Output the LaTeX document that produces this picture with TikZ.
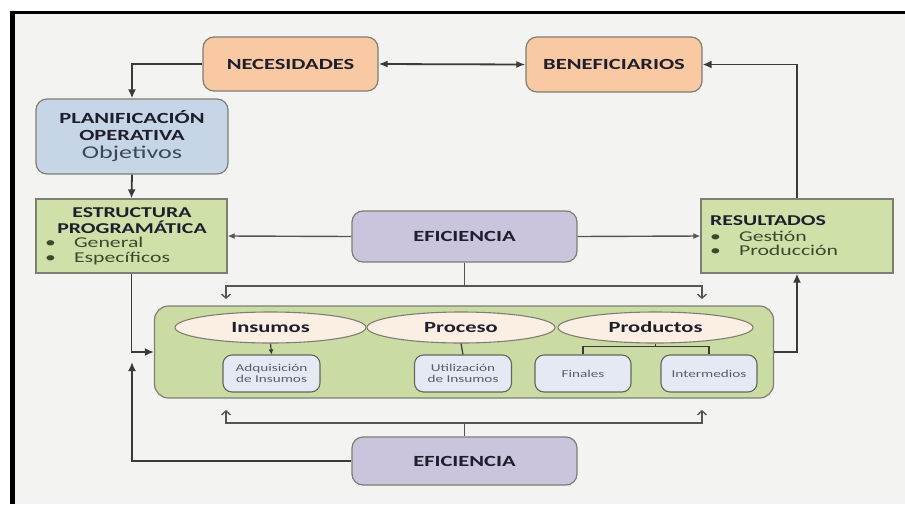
\documentclass[tikz,border=0pt]{standalone}
\usepackage{fontspec}
\setmainfont{Carlito}[FakeStretch=1.45]
\usetikzlibrary{arrows.meta,shapes.geometric}
\definecolor{bgc}{HTML}{F3F3F2}
\definecolor{orangef}{HTML}{F9C9A3}
\definecolor{bluef}{HTML}{C7D6E7}
\definecolor{greenf}{HTML}{D0E0A9}
\definecolor{bigf}{HTML}{CBDBA4}
\definecolor{purplef}{HTML}{CBC4DD}
\definecolor{ellf}{HTML}{FBEEE2}
\definecolor{smallf}{HTML}{E5E9F4}
\definecolor{bord}{HTML}{7E7E72}
\definecolor{lc}{HTML}{3A3A3A}
\definecolor{lc2}{HTML}{555555}
\definecolor{hd}{HTML}{1E1E2C}
\definecolor{objc}{HTML}{3C4856}
\definecolor{bulc}{HTML}{3C4A2C}
\definecolor{smc}{HTML}{55606A}
\newcommand{\hdfont}{\bfseries\fontsize{15.5}{17}\selectfont}
\begin{document}
\begin{tikzpicture}[x=1pt,y=-1pt,
  box/.style={draw=bord, line width=1.2pt, inner sep=0pt, rounded corners=11pt, text=hd, font=\hdfont, align=center},
  sqbox/.style={draw=bord, line width=1.2pt, inner sep=0pt},
  ell/.style={ellipse, draw=bord, line width=1.1pt, fill=ellf, inner sep=0pt, text=hd, font=\bfseries\fontsize{15.5}{17}\selectfont},
  small/.style={draw=bord!80!black, line width=1.1pt, fill=smallf, rounded corners=9pt, inner sep=0pt, text=smc, align=center, font=\fontsize{10.5}{11}\selectfont, minimum width=97pt, minimum height=37pt},
  arr/.style={draw=lc, line width=1.8pt, -{Latex[length=9pt,width=8pt]}},
  arrs/.style={draw=lc2, line width=1.4pt, -{Latex[length=7pt,width=6pt]}},
  ln/.style={draw=lc2, line width=1.4pt},
  barb/.style={draw=lc2, line width=1.4pt, {Straight Barb[length=4pt,width=9pt]}-{Straight Barb[length=4pt,width=9pt]}},
  hdtxt/.style={text=hd, font=\bfseries\fontsize{15}{15.5}\selectfont, inner sep=0pt},
  bultxt/.style={text=bulc, align=left, inner sep=0pt}
]
\useasboundingbox (0,0) rectangle (905,504);
\fill[white] (0,0) rectangle (905,504);
\fill[bgc] (12,12) rectangle (905,504);
\draw[line width=3pt] (10,12) -- (905,12);
\draw[line width=5pt] (12.5,10.5) -- (12.5,504);

% top row
\node[box, fill=orangef, minimum width=175pt, minimum height=54pt] (nec) at (290.5,64) {NECESIDADES};
\node[box, fill=orangef, minimum width=176pt, minimum height=55pt] (ben) at (614,64.5) {BENEFICIARIOS};

% planificacion
\node[box, fill=bluef, minimum width=192pt, minimum height=75pt] (plan) at (132,136.5) {PLANIFICACIÓN\\OPERATIVA\\[1pt]{\mdseries\fontsize{18}{18}\selectfont\color{objc}Objetivos}};

% estructura
\node[sqbox, fill=greenf, minimum width=191pt, minimum height=74pt] (est) at (131.5,236) {};
\node[hdtxt, align=center] (esth) at (132,220.5) {ESTRUCTURA\\PROGRAMÁTICA};
\node[bultxt, anchor=west, font=\fontsize{15}{15}\selectfont] (estb) at (45,250.5) {\textbullet\hspace{18pt}General\\\textbullet\hspace{18pt}Específicos};

% resultados
\node[sqbox, fill=greenf, minimum width=192pt, minimum height=74pt] (res) at (797,236) {};
\node[hdtxt, anchor=west] (resh) at (710,221) {RESULTADOS};
\node[bultxt, anchor=west, font=\fontsize{15}{13.5}\selectfont] (resb) at (710,243.5) {\textbullet\hspace{18pt}Gestión\\\textbullet\hspace{18pt}Producción};

% eficiencia
\node[box, fill=purplef, minimum width=225pt, minimum height=51pt] (ef1) at (464.5,236.5) {EFICIENCIA};
\node[box, fill=purplef, minimum width=225pt, minimum height=48pt] (ef2) at (464.5,461) {EFICIENCIA};

% big process box
\node[sqbox, fill=bigf, rounded corners=14pt, minimum width=619pt, minimum height=92pt] (big) at (464,352) {};
\node[ell, minimum width=191pt, minimum height=31pt] (ins) at (270.5,327.5) {Insumos};
\node[ell, minimum width=188pt, minimum height=31pt] (pro) at (461,327.5) {Proceso};
\node[ell, minimum width=195pt, minimum height=31pt] (prd) at (655.5,327.5) {Productos};
\node[small] (adq) at (271.5,373.5) {Adquisición\\de Insumos};
\node[small] (uti) at (463,373.5) {Utilización\\de Insumos};
\node[small, minimum width=96pt] (fin) at (583,373.5) {Finales};
\node[small, minimum width=96pt] (int) at (709,373.5) {Intermedios};

% coordinates
\coordinate (t1) at (226,286);
\coordinate (t2) at (702,286);
\coordinate (t1a) at (226,299);
\coordinate (t2a) at (702,299);
\coordinate (b1) at (226,423);
\coordinate (b2) at (702,423);
\coordinate (b1a) at (226,410);
\coordinate (b2a) at (702,410);
\coordinate (up) at (132,362);

% connectors
\draw[arr] (nec.west) -| (plan.north);
\draw[arr] (plan.south) -- (est.north);
\draw[draw=lc, line width=1.8pt, {Latex[length=9pt,width=7pt]}-{Latex[length=9pt,width=7pt]}] (nec.east) -- (ben.west);
\draw[arr] (res.north) |- (ben.east);
\draw[arrs] (ef1.west) -- (est.east);
\draw[arrs] (ef1.east) -- (res.west);
\draw[ln] (ef1.south) -- (ef1.south |- t1);
\draw[barb] (t1a) -- (t1) -- (t2) -- (t2a);
\draw[ln] (ef2.north) -- (ef2.north |- b1);
\draw[barb] (b1a) -- (b1) -- (b2) -- (b2a);
\draw[arr] (est.south) |- (big.west);
\draw[arr] (ef2.west) -| (up);
\draw[arr] (big.east) -| (res.south);
\draw[draw=lc, line width=1.2pt, -{Latex[length=5pt,width=5pt]}] (ins.south) -- (adq.north);
\draw[draw=lc, line width=1.2pt] (pro.south) -- (uti.north);
\draw[draw=lc, line width=1.2pt] (prd.south) -- (prd.south |- 0,347);
\draw[draw=lc, line width=1.2pt] (fin.north) -- ++(0,-8) -| (int.north);
\end{tikzpicture}
\end{document}
